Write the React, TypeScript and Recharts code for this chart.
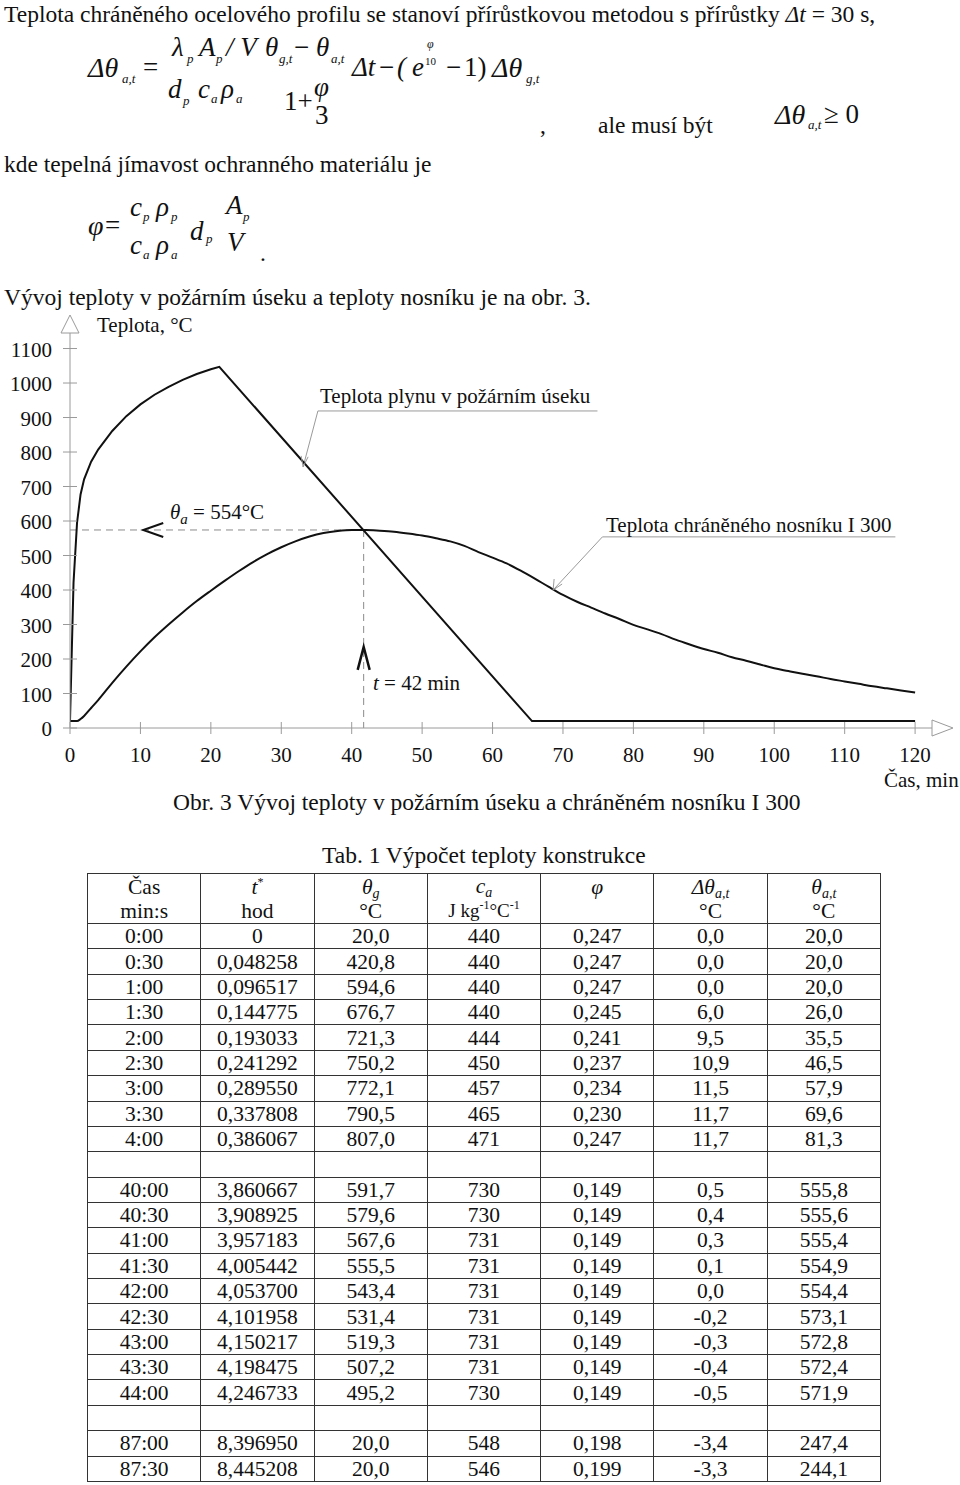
import React from "react";
import { LineChart, Line, XAxis, YAxis, ReferenceLine, ReferenceDot } from "recharts";

// gas temperature in the fire compartment (min, °C)
const gasTime = [0, 0.5, 1, 1.5, 2, 3, 4, 6, 8, 10, 12, 14, 16, 18, 20, 21.2, 65.6, 120];
const gasTemp = [20, 421, 595, 677, 721, 772, 807, 861, 904, 938, 966, 989, 1009, 1026, 1040, 1047, 20, 20];

// protected beam I 300 (min, °C)
const steelTime = [0, 1, 1.5, 2, 3, 4, 6, 8, 10, 12, 14, 16, 18, 20, 22, 24, 26, 28, 30, 32, 34, 36, 38, 40, 42, 44, 46, 48, 50, 52, 54, 56, 58, 60, 62, 64, 66, 68, 70, 72, 74, 76, 78, 80, 82, 84, 86, 88, 90, 92, 94, 96, 98, 100, 102, 104, 106, 108, 110, 112, 114, 116, 118, 120];
const steelTemp = [20, 20, 26, 35, 58, 81, 131, 178, 222, 263, 300, 335, 368, 398, 427, 455, 481, 504, 524, 541, 555, 565, 571, 574, 574, 572, 569, 564, 558, 550, 541, 528, 510, 494, 477, 456, 433, 409, 386, 366, 349, 332, 316, 299, 286, 272, 256, 242, 229, 218, 205, 195, 184, 173, 165, 157, 150, 142, 135, 128, 121, 115, 109, 103];

const xTicks = [0, 10, 20, 30, 40, 50, 60, 70, 80, 90, 100, 110, 120];
const yTicks = [0, 100, 200, 300, 400, 500, 600, 700, 800, 900, 1000, 1100];

const peakTime = 41.7;
const peakTemp = 574;

// table columns
const casCol = ["0:00", "0:30", "1:00", "1:30", "2:00", "2:30", "3:00", "3:30", "4:00", "", "40:00", "40:30", "41:00", "41:30", "42:00", "42:30", "43:00", "43:30", "44:00", "", "87:00", "87:30"];
const tStarCol = ["0", "0,048258", "0,096517", "0,144775", "0,193033", "0,241292", "0,289550", "0,337808", "0,386067", "", "3,860667", "3,908925", "3,957183", "4,005442", "4,053700", "4,101958", "4,150217", "4,198475", "4,246733", "", "8,396950", "8,445208"];
const thetaGCol = ["20,0", "420,8", "594,6", "676,7", "721,3", "750,2", "772,1", "790,5", "807,0", "", "591,7", "579,6", "567,6", "555,5", "543,4", "531,4", "519,3", "507,2", "495,2", "", "20,0", "20,0"];
const caCol = ["440", "440", "440", "440", "444", "450", "457", "465", "471", "", "730", "730", "731", "731", "731", "731", "731", "731", "730", "", "548", "546"];
const phiCol = ["0,247", "0,247", "0,247", "0,245", "0,241", "0,237", "0,234", "0,230", "0,247", "", "0,149", "0,149", "0,149", "0,149", "0,149", "0,149", "0,149", "0,149", "0,149", "", "0,198", "0,199"];
const dThetaCol = ["0,0", "0,0", "0,0", "6,0", "9,5", "10,9", "11,5", "11,7", "11,7", "", "0,5", "0,4", "0,3", "0,1", "0,0", "-0,2", "-0,3", "-0,4", "-0,5", "", "-3,4", "-3,3"];
const thetaACol = ["20,0", "20,0", "20,0", "26,0", "35,5", "46,5", "57,9", "69,6", "81,3", "", "555,8", "555,6", "555,4", "554,9", "554,4", "573,1", "572,8", "572,4", "571,9", "", "247,4", "244,1"];

const FONT = "'Liberation Serif', 'Times New Roman', serif";
const AXIS = "#9a9a9a";
const INK = "#111";
const BODY = 23.5;

const gasData = gasTime.map((t, i) => ({ t, v: gasTemp[i] }));
const steelData = steelTime.map((t, i) => ({ t, v: steelTemp[i] }));

function Txt({ x, cy, size = BODY, italic = false, children }: any) {
  return (
    <div
      style={{
        position: "absolute",
        left: x,
        top: cy - size * 0.58,
        fontSize: size,
        lineHeight: 1,
        fontStyle: italic ? "italic" : "normal",
        whiteSpace: "nowrap",
        color: INK,
      }}
    >
      {children}
    </div>
  );
}

const XTick = (p: any) => (
  <g>
    <line x1={p.x} x2={p.x} y1={p.y - 6} y2={p.y + 6} stroke={AXIS} />
    <text x={p.x} y={p.y + 34} textAnchor="middle" fontSize={21} fontFamily={FONT} fill={INK}>
      {p.payload.value}
    </text>
  </g>
);

const YTick = (p: any) => (
  <g>
    <line x1={p.x - 7} x2={p.x + 7} y1={p.y} y2={p.y} stroke={AXIS} />
    <text x={p.x - 18} y={p.y + 8} textAnchor="end" fontSize={21} fontFamily={FONT} fill={INK}>
      {p.payload.value}
    </text>
  </g>
);

function Chart() {
  return (
    <div style={{ position: "absolute", left: 0, top: 300 }}>
      <LineChart width={960} height={500} margin={{ top: 33, right: 28, bottom: 42, left: 0 }}>
        <XAxis
          type="number"
          dataKey="t"
          domain={[0, 122.4]}
          ticks={xTicks}
          interval={0}
          tickSize={0}
          tickMargin={0}
          tickLine={false}
          tick={XTick}
          axisLine={{ stroke: AXIS }}
          height={30}
          allowDataOverflow
        />
        <YAxis
          type="number"
          domain={[0, 1145]}
          ticks={yTicks}
          interval={0}
          tickSize={0}
          tickMargin={0}
          tickLine={false}
          tick={YTick}
          axisLine={{ stroke: AXIS }}
          width={70}
          allowDataOverflow
        />
        <ReferenceLine segment={[{ x: 0, y: peakTemp }, { x: peakTime, y: peakTemp }]} stroke="#8a8a8a" strokeDasharray="7 5" ifOverflow="visible" />
        <ReferenceLine segment={[{ x: peakTime, y: peakTemp }, { x: peakTime, y: 0 }]} stroke="#8a8a8a" strokeDasharray="7 5" ifOverflow="visible" />
        {/* leader lines */}
        <ReferenceLine segment={[{ x: 35.2, y: 919 }, { x: 74.9, y: 919 }]} stroke={AXIS} ifOverflow="visible" />
        <ReferenceLine segment={[{ x: 35.2, y: 919 }, { x: 33.1, y: 757 }]} stroke={AXIS} ifOverflow="visible" />
        <ReferenceLine segment={[{ x: 75.6, y: 554 }, { x: 117.2, y: 554 }]} stroke={AXIS} ifOverflow="visible" />
        <ReferenceLine segment={[{ x: 75.6, y: 554 }, { x: 68.6, y: 400 }]} stroke={AXIS} ifOverflow="visible" />
        <Line data={gasData} dataKey="v" type="linear" stroke={INK} strokeWidth={2} dot={false} isAnimationActive={false} />
        <Line data={steelData} dataKey="v" type="monotone" stroke={INK} strokeWidth={2} dot={false} isAnimationActive={false} />
        {/* axis arrows */}
        <ReferenceDot
          x={0}
          y={1145}
          ifOverflow="visible"
          shape={(p: any) => (
            <polygon points={`${p.cx - 9},${p.cy} ${p.cx + 9},${p.cy} ${p.cx},${p.cy - 18}`} fill="#fff" stroke={AXIS} />
          )}
        />
        <ReferenceDot
          x={122.4}
          y={0}
          ifOverflow="visible"
          shape={(p: any) => (
            <polygon points={`${p.cx},${p.cy - 8} ${p.cx},${p.cy + 8} ${p.cx + 21},${p.cy}`} fill="#fff" stroke={AXIS} />
          )}
        />
        {/* markers */}
        <ReferenceDot
          x={10.4}
          y={peakTemp}
          ifOverflow="visible"
          shape={(p: any) => (
            <polyline points={`${p.cx + 20},${p.cy - 7} ${p.cx},${p.cy} ${p.cx + 20},${p.cy + 7}`} fill="none" stroke={INK} strokeWidth={2} />
          )}
        />
        <ReferenceDot
          x={peakTime}
          y={235}
          ifOverflow="visible"
          shape={(p: any) => (
            <polyline points={`${p.cx - 6},${p.cy + 23} ${p.cx},${p.cy} ${p.cx + 6},${p.cy + 23}`} fill="none" stroke={INK} strokeWidth={2.5} />
          )}
        />
        <ReferenceDot
          x={68.6}
          y={400}
          ifOverflow="visible"
          shape={(p: any) => (
            <polyline points={`${p.cx + 1},${p.cy - 11} ${p.cx},${p.cy} ${p.cx + 9},${p.cy - 6}`} fill="none" stroke={AXIS} />
          )}
        />
        <ReferenceDot
          x={33.1}
          y={757}
          ifOverflow="visible"
          shape={(p: any) => (
            <polyline points={`${p.cx - 2},${p.cy - 11} ${p.cx},${p.cy} ${p.cx + 5},${p.cy - 10}`} fill="none" stroke={AXIS} />
          )}
        />
      </LineChart>
    </div>
  );
}

const cell: React.CSSProperties = {
  border: "1.5px solid #333",
  padding: 0,
  textAlign: "center",
  fontSize: 21.5,
  lineHeight: "22px",
};

const Sub = ({ children }: any) => (
  <span style={{ fontSize: 14, verticalAlign: "-4px", lineHeight: 0 }}>{children}</span>
);
const Sup = ({ children }: any) => (
  <span style={{ fontSize: 12, verticalAlign: "8px", lineHeight: 0 }}>{children}</span>
);

function DataTable() {
  const head1 = [
    "Čas",
    <span key="t">
      <i>t</i>
      <Sup>*</Sup>
    </span>,
    <i key="g">
      θ<Sub>g</Sub>
    </i>,
    <i key="c">
      c<Sub>a</Sub>
    </i>,
    <i key="p">φ</i>,
    <i key="d">
      Δθ<Sub>a,t</Sub>
    </i>,
    <i key="a">
      θ<Sub>a,t</Sub>
    </i>,
  ];
  const head2 = [
    "min:s",
    "hod",
    "°C",
    <span key="u" style={{ fontSize: 19 }}>
      J kg<Sup>-1</Sup>°C<Sup>-1</Sup>
    </span>,
    "",
    "°C",
    "°C",
  ];
  const cols = [casCol, tStarCol, thetaGCol, caCol, phiCol, dThetaCol, thetaACol];
  return (
    <table
      style={{
        position: "absolute",
        left: 87,
        top: 873,
        width: 794,
        borderCollapse: "collapse",
        tableLayout: "fixed",
        fontFamily: FONT,
        color: INK,
      }}
    >
      <tbody>
        <tr style={{ height: 50 }}>
          {head1.map((h, i) => (
            <td key={i} style={{ ...cell, lineHeight: "24px" }}>
              <div>{h}</div>
              <div>{head2[i] === "" ? "\u00a0" : head2[i]}</div>
            </td>
          ))}
        </tr>
        {casCol.map((_, r) => (
          <tr key={r} style={{ height: 25.36 }}>
            {cols.map((c, i) => (
              <td key={i} style={cell}>
                {c[r]}
              </td>
            ))}
          </tr>
        ))}
      </tbody>
    </table>
  );
}

export default function App() {
  return (
    <div
      style={{
        position: "absolute",
        left: 0,
        top: 0,
        width: 960,
        height: 1485,
        background: "#fff",
        fontFamily: FONT,
        color: INK,
        overflow: "hidden",
      }}
    >
      <Txt x={4} cy={17}>
        Teplota chráněného ocelového profilu se stanoví přírůstkovou metodou s přírůstky <i>Δt</i> = 30 s,
      </Txt>

      {/* incremental formula */}
      <Txt x={88} cy={70} size={28} italic>Δθ</Txt>
      <Txt x={122} cy={80} size={13} italic>a,t</Txt>
      <Txt x={143} cy={70} size={27}>=</Txt>
      <Txt x={172} cy={50} size={27} italic>λ</Txt>
      <Txt x={187} cy={60} size={13} italic>p</Txt>
      <Txt x={199} cy={50} size={27} italic>A</Txt>
      <Txt x={216} cy={60} size={13} italic>p</Txt>
      <Txt x={226} cy={50} size={27} italic>/ V</Txt>
      <Txt x={168} cy={92} size={27} italic>d</Txt>
      <Txt x={183} cy={102} size={13} italic>p</Txt>
      <Txt x={198} cy={92} size={27} italic>c</Txt>
      <Txt x={211} cy={100} size={13} italic>a</Txt>
      <Txt x={221} cy={92} size={27} italic>ρ</Txt>
      <Txt x={236} cy={100} size={13} italic>a</Txt>
      <Txt x={265} cy={50} size={27} italic>θ</Txt>
      <Txt x={279} cy={60} size={13} italic>g,t</Txt>
      <Txt x={294} cy={50} size={27}>−</Txt>
      <Txt x={316} cy={50} size={27} italic>θ</Txt>
      <Txt x={331} cy={60} size={13} italic>a,t</Txt>
      <Txt x={284} cy={104} size={27}>1+</Txt>
      <Txt x={314} cy={90} size={27} italic>φ</Txt>
      <Txt x={315} cy={118} size={27}>3</Txt>
      <Txt x={352} cy={70} size={27} italic>Δt</Txt>
      <Txt x={379} cy={70} size={27}>−</Txt>
      <Txt x={397} cy={70} size={27} italic>(</Txt>
      <Txt x={412} cy={70} size={27} italic>e</Txt>
      <Txt x={427} cy={45} size={12} italic>φ</Txt>
      <Txt x={425} cy={62} size={11}>10</Txt>
      <Txt x={446} cy={70} size={27}>−</Txt>
      <Txt x={464} cy={70} size={27}>1)</Txt>
      <Txt x={492} cy={70} size={28} italic>Δθ</Txt>
      <Txt x={526} cy={80} size={13} italic>g,t</Txt>
      <Txt x={540} cy={128}>,</Txt>
      <Txt x={598} cy={128}>ale musí být</Txt>
      <Txt x={775} cy={117} size={28} italic>Δθ</Txt>
      <Txt x={808} cy={126} size={13} italic>a,t</Txt>
      <Txt x={824} cy={117} size={27}>≥ 0</Txt>

      <Txt x={4} cy={167}>kde tepelná jímavost ochranného materiálu je</Txt>

      {/* phi formula */}
      <Txt x={88} cy={228} size={28} italic>φ</Txt>
      <Txt x={105} cy={228} size={27}>=</Txt>
      <Txt x={130} cy={210} size={27} italic>c</Txt>
      <Txt x={143} cy={218} size={13} italic>p</Txt>
      <Txt x={156} cy={210} size={27} italic>ρ</Txt>
      <Txt x={171} cy={218} size={13} italic>p</Txt>
      <Txt x={130} cy={248} size={27} italic>c</Txt>
      <Txt x={143} cy={256} size={13} italic>a</Txt>
      <Txt x={156} cy={248} size={27} italic>ρ</Txt>
      <Txt x={171} cy={256} size={13} italic>a</Txt>
      <Txt x={190} cy={234} size={27} italic>d</Txt>
      <Txt x={206} cy={240} size={13} italic>p</Txt>
      <Txt x={226} cy={208} size={27} italic>A</Txt>
      <Txt x={243} cy={218} size={13} italic>p</Txt>
      <Txt x={227} cy={245} size={27} italic>V</Txt>
      <Txt x={260} cy={256}>.</Txt>

      <Txt x={4} cy={300}>Vývoj teploty v požárním úseku a teploty nosníku je na obr. 3.</Txt>

      <Chart />

      {/* chart annotations */}
      <Txt x={97} cy={327} size={21}>Teplota, °C</Txt>
      <Txt x={320} cy={398} size={21}>Teplota plynu v požárním úseku</Txt>
      <Txt x={170} cy={514} size={21}>
        <i>θ</i>
        <i style={{ fontSize: 15, verticalAlign: "-5px" }}>a</i> = 554°C
      </Txt>
      <Txt x={606} cy={527} size={21}>Teplota chráněného nosníku I 300</Txt>
      <Txt x={373} cy={685} size={21}>
        <i>t</i> = 42 min
      </Txt>
      <Txt x={884} cy={782} size={21}>Čas, min</Txt>
      <Txt x={173} cy={805}>Obr. 3 Vývoj teploty v požárním úseku a chráněném nosníku I 300</Txt>

      <Txt x={322} cy={858}>Tab. 1 Výpočet teploty konstrukce</Txt>
      <DataTable />
    </div>
  );
}
